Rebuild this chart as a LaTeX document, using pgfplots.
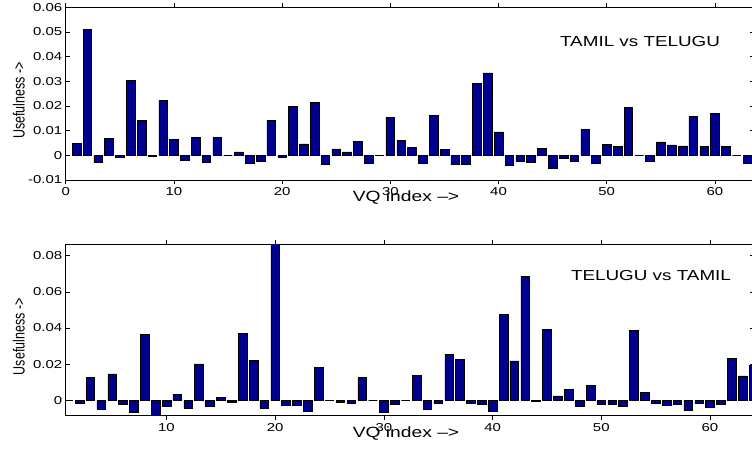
\documentclass[border=0pt]{standalone}
\usepackage{fontspec}
\setmainfont{Liberation Sans}[FakeStretch=1.3]
\newfontfamily\ylabfont{Liberation Sans}
\usepackage{pgfplots}
\usepackage{pgfplotstable}
\pgfplotsset{compat=1.18}
\definecolor{barblue}{RGB}{0,0,143}

\pgfplotstableread{
x y
1 0.0049
2 0.0511
3 -0.0030
4 0.0070
5 -0.0008
6 0.0304
7 0.0143
8 -0.0005
9 0.0222
10 0.0066
11 -0.0019
12 0.0074
13 -0.0028
14 0.0074
15 0
16 0.0014
17 -0.0034
18 -0.0022
19 0.0143
20 -0.0008
21 0.0197
22 0.0046
23 0.0215
24 -0.0035
25 0.0026
26 0.0014
27 0.0057
28 -0.0032
29 0
30 0.0154
31 0.0061
32 0.0031
33 -0.0032
34 0.0161
35 0.0023
36 -0.0038
37 -0.0038
38 0.0293
39 0.0334
40 0.0095
41 -0.0041
42 -0.0022
43 -0.0030
44 0.0028
45 -0.0054
46 -0.0012
47 -0.0024
48 0.0105
49 -0.0031
50 0.0043
51 0.0035
52 0.0193
53 0
54 -0.0026
55 0.0055
56 0.0042
57 0.0038
58 0.0158
59 0.0035
60 0.0170
61 0.0036
62 0
63 -0.0031
}\toptable

\pgfplotstableread{
x y
1 0
2 -0.0018
3 0.0125
4 -0.0048
5 0.0146
6 -0.0022
7 -0.0068
8 0.0365
9 -0.0100
10 -0.0035
11 0.0031
12 -0.0042
13 0.0201
14 -0.0031
15 0.0017
16 -0.0009
17 0.0369
18 0.0219
19 -0.0042
20 0.0900
21 -0.0026
22 -0.0029
23 -0.0063
24 0.0184
25 0
26 -0.0011
27 -0.0018
28 0.0125
29 0
30 -0.0068
31 -0.0024
32 0
33 0.0140
34 -0.0050
35 -0.0017
36 0.0254
37 0.0225
38 -0.0017
39 -0.0022
40 -0.0063
41 0.0477
42 0.0218
43 0.0686
44 -0.0007
45 0.0391
46 0.0024
47 0.0061
48 -0.0035
49 0.0083
50 -0.0024
51 -0.0024
52 -0.0035
53 0.0387
54 0.0044
55 -0.0017
56 -0.0029
57 -0.0024
58 -0.0057
59 -0.0018
60 -0.0041
61 -0.0024
62 0.0232
63 0.0135
64 0.0192
}\bottable

\pgfplotsset{
  mystyle/.style={
    scale only axis,
    width=688.2pt,
    anchor=south west,
    axis line style={black, line width=0.8pt},
    major tick length=4pt,
    tick style={black, line width=0.6pt},
    tick align=inside,
    ybar, bar width=0.8, bar shift=0pt,
    /pgf/number format/assume math mode=true,
    scaled y ticks=false,
    yticklabel style={/pgf/number format/fixed, /pgf/number format/precision=2, font=\fontsize{11.5}{12}\selectfont},
    xticklabel style={font=\fontsize{11.5}{12}\selectfont},
    xlabel={VQ index -->},
    xlabel style={at={(axis description cs:0.4945,-0.103)}, anchor=center, font=\fontsize{14.8}{16}\selectfont},
    ylabel={Usefulness ->},
    ylabel style={at={(axis description cs:-0.0683,0.46)}, anchor=center, yscale=1.3, font=\ylabfont\fontsize{12.5}{14}\selectfont},
  }
}

\begin{document}
\begin{tikzpicture}
\begin{axis}[mystyle,
  at={(65.7pt,-180pt)},
  height=172.7pt,
  xmin=0, xmax=63.6,
  ymin=-0.01, ymax=0.06,
  xtick={0,10,20,30,40,50,60},
  ytick={-0.01,0,0.01,0.02,0.03,0.04,0.05,0.06},
]
\addplot[fill=barblue, draw=black, line width=0.5pt] table[x=x,y=y] {\toptable};
\node[font=\fontsize{14.5}{16}\selectfont, text=black] at (axis cs:53.08,0.0462) {TAMIL vs TELUGU};
\end{axis}
\begin{axis}[mystyle,
  at={(65.7pt,-415.7pt)},
  height=171.7pt,
  xmin=0.73, xmax=64.04,
  ymin=-0.00852, ymax=0.0865,
  xtick={10,20,30,40,50,60},
  ytick={0,0.02,0.04,0.06,0.08},
]
\addplot[fill=barblue, draw=black, line width=0.5pt] table[x=x,y=y] {\bottable};
\node[font=\fontsize{14.5}{16}\selectfont, text=black] at (axis cs:54.57,0.069) {TELUGU vs TAMIL};
\end{axis}
\pgfresetboundingbox
\useasboundingbox (0,0) rectangle (752pt,-452pt);
\end{tikzpicture}
\end{document}
